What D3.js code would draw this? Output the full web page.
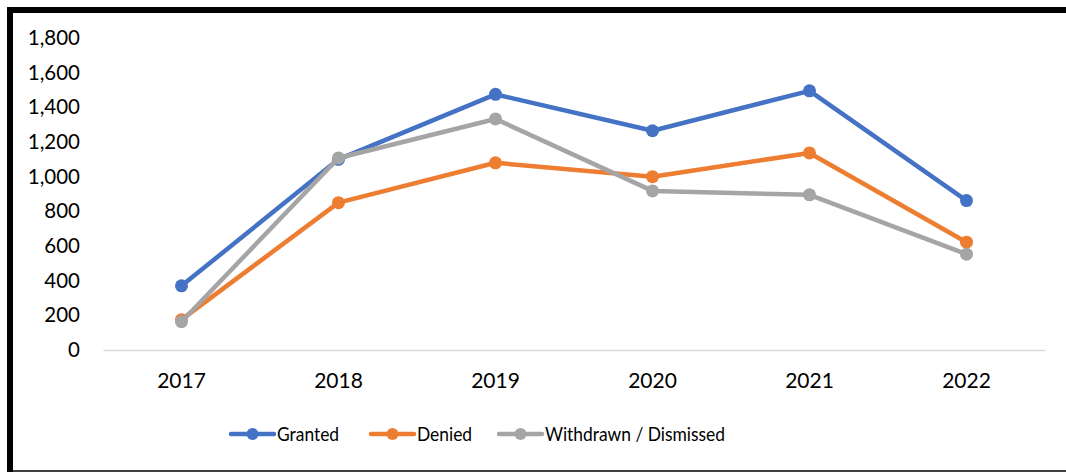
<!DOCTYPE html>
<html><head><meta charset="utf-8">
<script src="https://cdn.jsdelivr.net/npm/d3@7"></script>
<style>body{margin:0;background:#fff}svg{display:block}</style>
</head><body>
<svg id="c" width="1066" height="472"></svg>
<script>
const years = ["2017","2018","2019","2020","2021","2022"];
const granted = [370, 1100, 1475, 1265, 1495, 862];
const denied = [175, 850, 1080, 1000, 1137, 622];
const withdrawn = [163, 1108, 1333, 918, 895, 553];
const seriesNames = ["Granted","Denied","Withdrawn / Dismissed"];
const colors = ["#4472C4","#ED7D31","#A5A5A5"];
const yTicks = [0,200,400,600,800,1000,1200,1400,1600,1800];

const svg = d3.select("#c");
const font = "Lato, 'Open Sans', sans-serif";
// border
svg.append("path").attr("d","M10,472 L10,10 L1066,10").attr("fill","none").attr("stroke","#000").attr("stroke-width",6);
svg.append("line").attr("x1",7).attr("x2",1066).attr("y1",471).attr("y2",471).attr("stroke","#000").attr("stroke-width",1.5);

const x = d3.scaleBand().domain(years).range([103,1045]);
const y = d3.scaleLinear().domain([0,1800]).range([350,38]);

// y axis labels
const yAxis = d3.axisLeft(y).tickValues(yTicks).tickSize(0).tickPadding(0).tickFormat(d3.format(","));
const gy = svg.append("g").attr("transform","translate(80,0)").call(yAxis);
gy.select(".domain").remove();
gy.selectAll("text").attr("font-family",font).attr("font-size",20.5).attr("fill","#000");

// x axis
const xAxis = d3.axisBottom(x).tickSize(0);
const gx = svg.append("g").attr("transform","translate(0,350)").call(xAxis);
gx.select(".domain").attr("stroke","#d9d9d9").attr("stroke-width",1.5);
gx.selectAll("text").attr("y",38).attr("dy",0).attr("font-family",font).attr("font-size",21).attr("fill","#000");

const data = [granted, denied, withdrawn];
const line = d3.line().x((d,i)=>x(years[i])+x.bandwidth()/2).y(d=>y(d));
data.forEach((s,k)=>{
  svg.append("path").datum(s).attr("d",line).attr("fill","none").attr("stroke",colors[k]).attr("stroke-width",4.5).attr("stroke-linejoin","round");
  svg.selectAll(null).data(s).enter().append("circle")
    .attr("cx",(d,i)=>x(years[i])+x.bandwidth()/2).attr("cy",d=>y(d)).attr("r",6.5).attr("fill",colors[k]);
});

// legend
const legX = [231, 371, 499];
seriesNames.forEach((n,k)=>{
  const g = svg.append("g").attr("transform",`translate(${legX[k]},434)`);
  g.append("line").attr("x1",0).attr("x2",43).attr("stroke",colors[k]).attr("stroke-width",4.5).attr("stroke-linecap","round");
  g.append("circle").attr("cx",21.5).attr("r",6).attr("fill",colors[k]);
  g.append("text").attr("transform","translate(46,0) scale(0.87,1)").attr("dy","0.36em").text(n)
    .attr("font-family",font).attr("font-size",20).attr("fill","#000");
});
</script>
</body></html>
